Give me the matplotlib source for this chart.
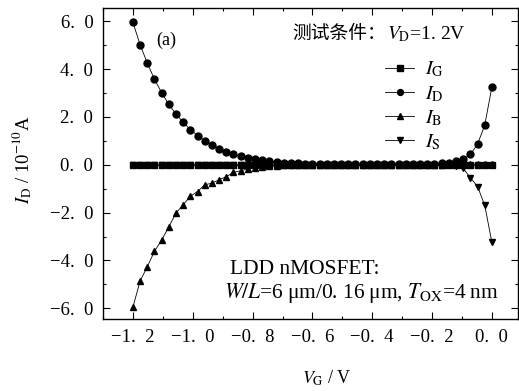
import numpy as np
import matplotlib
matplotlib.use("Agg")
import matplotlib.pyplot as plt
from matplotlib.ticker import MultipleLocator, FixedLocator

plt.rcParams['font.family'] = ['Liberation Serif', 'Noto Sans CJK SC']
plt.rcParams['mathtext.fontset'] = 'stix'

# gate voltage sweep (V)
vg = [-1.200, -1.176, -1.152, -1.128, -1.104, -1.080, -1.056, -1.032, -1.008, -0.984,
      -0.960, -0.936, -0.912, -0.888, -0.864, -0.840, -0.816, -0.792, -0.768, -0.744,
      -0.720, -0.696, -0.672, -0.648, -0.624, -0.600, -0.576, -0.552, -0.528, -0.504,
      -0.480, -0.456, -0.432, -0.408, -0.384, -0.360, -0.336, -0.312, -0.288, -0.264,
      -0.240, -0.216, -0.192, -0.168, -0.144, -0.120, -0.096, -0.072, -0.048, -0.024,
      0.000]

# currents in units of 1e-10 A
i_g = [0.00, 0.00, 0.00, 0.00, 0.00, 0.00, 0.00, 0.00, 0.00, 0.00,
       0.00, 0.00, 0.00, 0.00, 0.00, 0.00, 0.00, 0.00, 0.00, 0.00,
       0.00, 0.00, 0.00, 0.00, 0.00, 0.00, 0.00, 0.00, 0.00, 0.00,
       0.00, 0.00, 0.00, 0.00, 0.00, 0.00, 0.00, 0.00, 0.00, 0.00,
       0.00, 0.00, 0.00, 0.00, 0.00, 0.00, 0.00, 0.00, 0.00, 0.00,
       0.00]
i_d = [5.95, 5.01, 4.25, 3.57, 3.01, 2.52, 2.12, 1.77, 1.47, 1.22,
       1.00, 0.83, 0.66, 0.52, 0.43, 0.35, 0.30, 0.24, 0.18, 0.14,
       0.11, 0.09, 0.07, 0.06, 0.05, 0.04, 0.04, 0.03, 0.03, 0.03,
       0.03, 0.03, 0.02, 0.02, 0.02, 0.02, 0.02, 0.02, 0.02, 0.02,
       0.02, 0.03, 0.04, 0.06, 0.09, 0.14, 0.24, 0.43, 0.86, 1.65,
       3.25]
i_b = [-5.95, -4.86, -4.26, -3.62, -3.15, -2.59, -2.02, -1.67, -1.32, -1.12,
       -0.84, -0.77, -0.63, -0.50, -0.32, -0.25, -0.18, -0.13, -0.09, -0.06,
       -0.04, -0.03, -0.03, -0.02, -0.02, -0.02, -0.02, -0.01, -0.01, -0.01,
       -0.01, -0.01, -0.01, 0.00, 0.00, 0.00, 0.00, 0.00, 0.00, 0.00,
       0.00, 0.00, 0.00, 0.00, 0.01, 0.01, 0.02, 0.02, 0.02, 0.02,
       0.02]
i_s = [0.00, 0.00, 0.00, 0.00, 0.00, 0.00, 0.00, 0.00, 0.00, 0.00,
       0.00, 0.00, 0.00, 0.00, 0.00, 0.00, 0.00, 0.00, 0.00, 0.00,
       0.00, 0.00, 0.00, 0.00, 0.00, 0.00, 0.00, 0.00, 0.00, 0.00,
       0.00, 0.00, 0.00, 0.00, 0.00, 0.00, 0.00, 0.00, 0.00, -0.01,
       -0.01, -0.01, -0.02, -0.02, -0.03, -0.05, -0.15, -0.54, -0.91, -1.69,
       -3.25]

sp = '\u2002'
xticks = [-1.2, -1.0, -0.8, -0.6, -0.4, -0.2, 0.0]
xticklabels = ['\u22121.' + sp + '2', '\u22121.' + sp + '0', '\u22120.' + sp + '8',
               '\u22120.' + sp + '6', '\u22120.' + sp + '4', '\u22120.' + sp + '2', '0.' + sp + '0']
yticks = [-6, -4, -2, 0, 2, 4, 6]
yticklabels = ['\u22126.' + sp + '0', '\u22124.' + sp + '0', '\u22122.' + sp + '0', '0.' + sp + '0',
               '2.' + sp + '0', '4.' + sp + '0', '6.' + sp + '0']

W, H = 519, 391
fig = plt.figure(figsize=(W / 100, H / 100), dpi=100)
ax = fig.add_axes([0.1985, 0.184, 0.80, 0.7955])

style = dict(color='black', lw=0.6, ms=5)
ax.plot(vg, i_g, marker='s', label='$I_{\\rm G}$', **style)
ax.plot(vg, i_d, marker='o', label='$I_{\\rm D}$', **style)
ax.plot(vg, i_b, marker='^', label='$I_{\\rm B}$', **style)
ax.plot(vg, i_s, marker='v', label='$I_{\\rm S}$', **style)

ax.set_xlim(-1.30, 0.088)
ax.set_ylim(-6.45, 6.55)
ax.xaxis.set_major_locator(FixedLocator(xticks))
ax.set_xticklabels(xticklabels)
ax.xaxis.set_minor_locator(MultipleLocator(0.1))
ax.yaxis.set_major_locator(FixedLocator(yticks))
ax.set_yticklabels(yticklabels)
ax.yaxis.set_minor_locator(MultipleLocator(1))
ax.tick_params(which='both', direction='in', top=True, right=True, labelsize=13.5, width=0.8)
ax.tick_params(which='major', length=5, pad=7)
ax.tick_params(which='minor', length=2.5)
for s in ax.spines.values():
    s.set_linewidth(1.0)

# axis titles placed in pixel terms
fig.text(327 / W, 1 - 378 / H, '$V_{\\rm G}$ / V', fontsize=13, ha='center', va='center')
fig.text(22 / W, 1 - 160 / H, '$I_{\\rm D}$ / 10$^{-10}$A', fontsize=13.5, ha='center',
         va='center', rotation=90)

fig.text(166 / W, 1 - 40 / H, '(a)', fontsize=13, ha='center', va='center')
fig.text(292 / W, 1 - 33 / H, '测试条件：', fontsize=13.5, ha='left', va='center',
         family=['Noto Sans CJK SC', 'DejaVu Sans'])
fig.text(387 / W, 1 - 34 / H, '$V_{\\rm D}$=1. 2V', fontsize=14, ha='left', va='center')
fig.text(230 / W, 1 - 270 / H, 'LDD nMOSFET:', fontsize=15.5, ha='left', va='center')
fig.text(224 / W, 1 - 293 / H, '$W/L$=6\u2009μm/0. 16\u2009μm, $T_{\\rm OX}$=4\u2009nm',
         fontsize=15.5, ha='left', va='center')

ax.legend(loc='upper left', bbox_to_anchor=(0.655, 0.865), frameon=False, fontsize=14.5,
          handlelength=1.45, handletextpad=0.55, labelspacing=0.22, borderpad=0,
          markerscale=0.85)

fig.savefig('out.png', dpi=100)
